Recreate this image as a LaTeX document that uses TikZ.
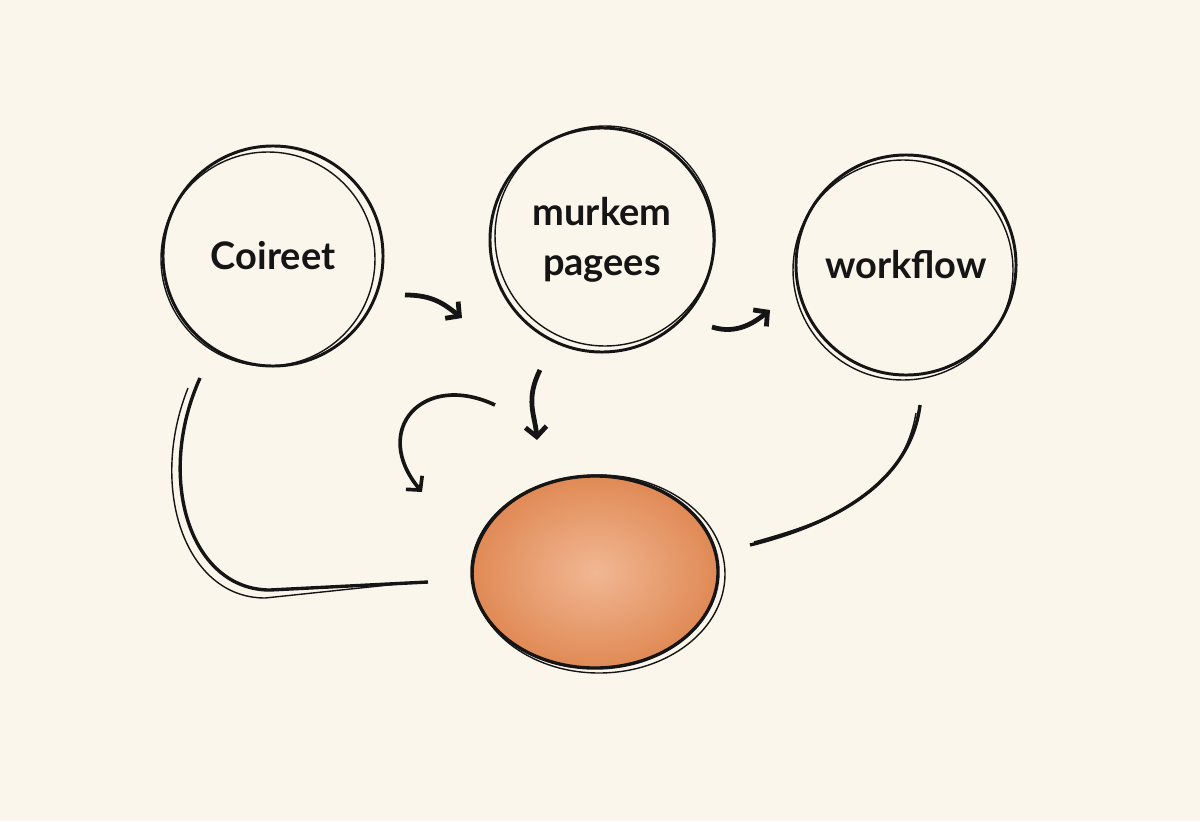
\documentclass[tikz,border=0pt]{standalone}
\usepackage{fontspec}
\setmainfont{Lato}
\usetikzlibrary{arrows.meta,calc,shapes.geometric}
\definecolor{paper}{HTML}{FBF6EC}
\definecolor{ink}{HTML}{151515}
\definecolor{clay}{HTML}{E08A55}
\definecolor{claylight}{HTML}{F1B793}
\tikzset{>={Straight Barb[length=7pt,width=15pt]},line cap=round,line join=round,
  every node/.style={font=\fontsize{27}{36}\selectfont\bfseries,text=ink},
  bubble/.style={circle,draw=ink,line width=2.1pt,minimum size=5.5cm,align=center},
  sketch/.style={draw=ink,line width=1pt},
  flow/.style={->,draw=ink,line width=3.4pt},
  trail/.style={draw=ink,line width=2.4pt}}
\begin{document}
\begin{tikzpicture}[x=.025cm,y=-.025cm]
\fill[paper] (0,0) rectangle (1200,821);
\useasboundingbox (0,0) rectangle (1200,821);
% three bubbles and the orange core
\node[bubble] (coireet) at (273,256) {Coireet};
\node[bubble,minimum size=5.6cm] (murkem) at (602,240) {murkem\\pagees};
\node[bubble] (workflow) at (906,265) {workflow};
\node[ellipse,draw=ink,line width=2.4pt,inner color=claylight,outer color=clay,
  minimum width=6.15cm,minimum height=4.8cm] (core) at (595,572) {};
% second pencil strokes
\draw[sketch] ([shift={(-5,3)}]coireet.center) circle [radius=107];
\draw[sketch] ([shift={(3,-4)}]murkem.center) circle [radius=110];
\draw[sketch] ([shift={(-3,5)}]workflow.center) circle [radius=110];
\draw[sketch] ([shift={(4,2)}]core.center) ellipse [x radius=126, y radius=99];
% connector ends
\coordinate (a1s) at ($(coireet)+(132,39)$);\coordinate (a1e) at ($(murkem)+(-140,78)$);
\coordinate (a2s) at ($(murkem)+(110,87)$);\coordinate (a2e) at ($(workflow)+(-136,45)$);
\coordinate (a3s) at ($(murkem)+(-62,130)$);\coordinate (a3e) at ($(core)+(-58,-132)$);
\coordinate (a4s) at ($(murkem)+(-107,165)$);\coordinate (a4e) at ($(core)+(-173,-80)$);
\coordinate (l1s) at ($(coireet)+(-73,122)$);\coordinate (l1e) at ($(core)+(-167,10)$);
\coordinate (l1b) at ($(core)+(-325,18)$);
\coordinate (l2s) at ($(workflow)+(14,140)$);\coordinate (l2e) at ($(core)+(155,-27)$);
% arrows
\draw[flow] (a1s) .. controls +(28,0) and +(-18,-14) .. (a1e);
\draw[flow] (a2s) .. controls +(25,8) and +(-15,12) .. (a2e);
\draw[flow] (a3s) .. controls +(-15,30) and +(-2,-25) .. (a3e);
\draw[flow,line width=2.6pt] (a4s) .. controls +(-72,-34) and +(-52,-62) .. (a4e);
% long trails to the core
\draw[trail] (l1s) .. controls +(-45,100) and +(-80,0) .. (l1b) -- (l1e);
\draw[sketch] ($(l1s)+(-12,10)$) .. controls +(-40,100) and +(-80,0) .. ($(l1b)+(-5,8)$) -- ($(l1e)+(-30,2)$);
\draw[trail] (l2s) .. controls +(-10,80) and +(80,-20) .. (l2e);
\draw[sketch] ($(l2s)+(-4,8)$) .. controls +(-14,80) and +(80,-22) .. ($(l2e)+(4,-3)$);
\end{tikzpicture}
\end{document}
